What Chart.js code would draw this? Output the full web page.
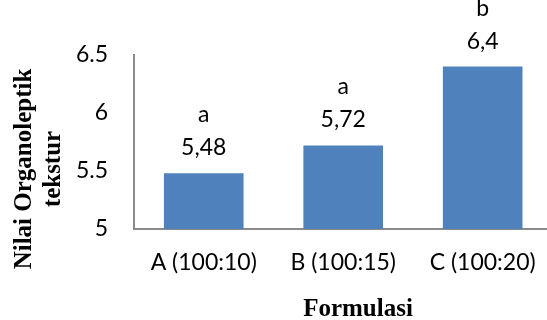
<!DOCTYPE html>
<html><head><meta charset="utf-8">
<script src="https://cdn.jsdelivr.net/npm/chart.js@4"></script>
<style>html,body{margin:0;padding:0;overflow:hidden;background:#fff}#wrap{width:556px;height:320px}</style>
</head><body><div id="wrap"><canvas id="c" width="556" height="320"></canvas></div>
<script>
const categories = ['A (100:10)', 'B (100:15)', 'C (100:20)'];
const values = [5.48, 5.72, 6.4];
const letters = ['a', 'a', 'b'];
const yTicks = [5, 5.5, 6, 6.5];
const xTitle = 'Formulasi';
const yTitle = ['Nilai Organoleptik', 'tekstur'];

const labelPlugin = {
  id: 'lbl',
  afterDatasetsDraw(chart) {
    const ctx = chart.ctx, meta = chart.getDatasetMeta(0);
    ctx.save();
    ctx.fillStyle = '#000';
    ctx.font = '23px Lato';
    ctx.textAlign = 'center';
    ctx.textBaseline = 'alphabetic';
    meta.data.forEach((bar, i) => {
      ctx.fillText(String(values[i]).replace('.', ','), bar.x, bar.y - 18);
      ctx.fillText(letters[i], bar.x, bar.y - 51);
    });
    ctx.restore();
  }
};
const titlePlugin = {
  id: 'ttl',
  afterDraw(chart) {
    const ctx = chart.ctx, ca = chart.chartArea;
    ctx.save();
    ctx.fillStyle = '#000';
    ctx.font = 'bold 25px "Liberation Serif"';
    ctx.textAlign = 'center';
    ctx.textBaseline = 'alphabetic';
    ctx.fillText(xTitle, ca.left + 224, 316);
    ctx.translate(0, 169);
    ctx.rotate(-Math.PI / 2);
    ctx.fillText(yTitle[0], 0, 31);
    ctx.fillText(yTitle[1], 0, 60);
    ctx.restore();
  }
};

function make() {
  new Chart(document.getElementById('c'), {
    type: 'bar',
    data: {
      labels: categories,
      datasets: [{ data: values, backgroundColor: '#4F81BD', borderWidth: 0, barPercentage: 0.571, categoryPercentage: 1 }]
    },
    plugins: [labelPlugin, titlePlugin],
    options: {
      responsive: false,
      animation: false,
      devicePixelRatio: 1,
      layout: { padding: { top: 55, right: 2, bottom: 0, left: 0 } },
      plugins: { legend: { display: false }, tooltip: { enabled: false } },
      scales: {
        x: {
          grid: { display: false, drawTicks: false },
          border: { display: true, color: '#8a8a8a', width: 2 },
          ticks: { color: '#000', font: { family: 'Lato', size: 23 }, padding: 20, maxRotation: 0 },
          afterFit(s) { s.height = 91; }
        },
        y: {
          min: 5, max: 6.5,
          grid: { display: false, drawTicks: false },
          border: { display: true, color: '#8a8a8a', width: 2 },
          ticks: { color: '#000', font: { family: 'Lato', size: 23 }, padding: 26, callback: v => String(v) },
          afterBuildTicks(s) { s.ticks = yTicks.map(v => ({ value: v })); },
          afterFit(s) { s.width = 134; }
        }
      }
    }
  });
}
Promise.all([document.fonts.load('23px Lato'), document.fonts.load('bold 25px "Liberation Serif"')]).then(make, make);
</script></body></html>
